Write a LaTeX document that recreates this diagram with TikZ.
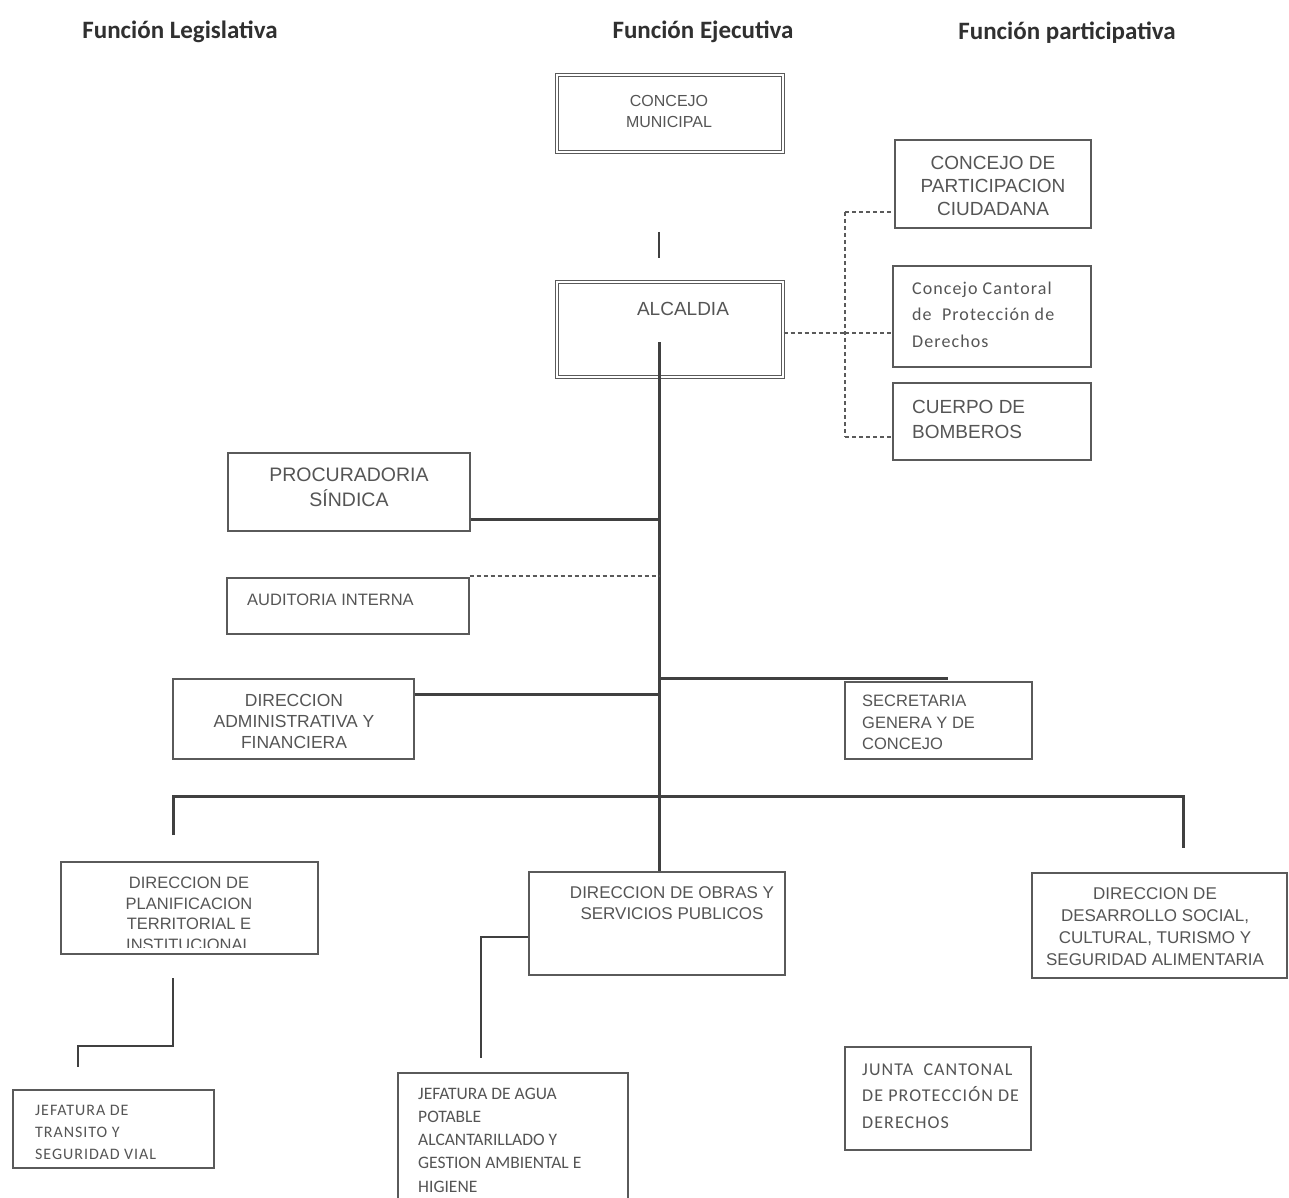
\documentclass[tikz,border=0pt]{standalone}
\usepackage{fontspec}
\newfontfamily\arialf{Liberation Sans}
\newfontfamily\calf{Carlito}
\newfontfamily\calsp[LetterSpace=6]{Carlito}
\definecolor{boxc}{HTML}{5A5A5A}
\definecolor{linec}{HTML}{404040}
\definecolor{txtc}{HTML}{555555}
\definecolor{hdrc}{HTML}{303030}
\begin{document}
\begin{tikzpicture}[x=1pt,y=-1pt,
  box/.style={draw=boxc, line width=1.3pt, inner sep=0pt, rectangle},
  dbox/.style={draw=boxc, line width=1.1pt, double=white, double distance=2.4pt, inner sep=0pt, rectangle},
  lbl/.style={text=txtc, inner sep=0pt, align=center},
  lbll/.style={text=txtc, inner sep=0pt, align=left, anchor=west},
  conn/.style={draw=linec, line width=3pt},
  thinln/.style={draw=linec, line width=1.5pt},
  dconn/.style={draw=boxc, line width=1.2pt, dash pattern=on 4pt off 3pt},
  hdr/.style={font={\calf\bfseries\fontsize{25}{30}\selectfont}, text=hdrc, inner sep=0pt}
]
\useasboundingbox (0,0) rectangle (1289,1198);
\fill[white] (0,0) rectangle (1289,1198);

% headers
\node[hdr] (h1) at (180,32) {Función Legislativa};
\node[hdr] (h2) at (703,32) {Función Ejecutiva};
\node[hdr] (h3) at (1067,33) {Función participativa};

% boxes
\node[dbox, minimum width=226, minimum height=77] (cm) at (670,113.5) {};
\node[dbox, minimum width=226, minimum height=95] (alc) at (670,329.5) {};
\node[box, minimum width=196, minimum height=88] (cpc) at (993,184) {};
\node[box, minimum width=198, minimum height=101] (ccp) at (992,316.5) {};
\node[box, minimum width=198, minimum height=77] (cb) at (992,421.5) {};
\node[box, minimum width=242, minimum height=78] (proc) at (349,492) {};
\node[box, minimum width=242, minimum height=56] (aud) at (348,606) {};
\node[box, minimum width=241, minimum height=80] (dadm) at (293.5,719) {};
\node[box, minimum width=187, minimum height=77] (sec) at (938.5,720.5) {};
\node[box, minimum width=257, minimum height=92] (plan) at (189.5,908) {};
\node[box, minimum width=256, minimum height=103] (obras) at (657,923.5) {};
\node[box, minimum width=255, minimum height=105] (desa) at (1159.5,925.5) {};
\node[box, minimum width=201, minimum height=78] (jtr) at (113.5,1129) {};
\node[box, minimum width=230, minimum height=132] (jag) at (513,1139) {};
\node[box, minimum width=186, minimum height=103] (junta) at (938,1098.5) {};

% texts
\node[lbl, font={\arialf\fontsize{16}{21}\selectfont}] (cmt) at (669,111.5) {CONCEJO\\MUNICIPAL};
\node[lbl, font={\arialf\fontsize{19}{23}\selectfont}] (alct) at (683,309) {ALCALDIA};
\node[lbl, font={\arialf\fontsize{19}{23}\selectfont}] (cpct) at (993,186) {CONCEJO DE\\PARTICIPACION\\CIUDADANA};
\node[lbll, font={\calsp\fontsize{18}{26.5}\selectfont}] (ccpt) at (912,314.5) {Concejo Cantoral\\de \ Protección de\\Derechos};
\node[lbll, font={\arialf\fontsize{19}{25}\selectfont}] (cbt) at (912,419.5) {CUERPO DE\\BOMBEROS};
\node[lbl, font={\arialf\fontsize{19.5}{25}\selectfont}] (proct) at (349,487.5) {PROCURADORIA\\SÍNDICA};
\node[lbll, font={\arialf\fontsize{16.5}{20}\selectfont}] (audt) at (247,600) {AUDITORIA INTERNA};
\node[lbl, font={\arialf\fontsize{17.5}{21}\selectfont}] (dadmt) at (294,721) {DIRECCION\\ADMINISTRATIVA Y\\FINANCIERA};
\node[lbll, font={\arialf\fontsize{16.5}{21.5}\selectfont}] (sect) at (862,722.5) {SECRETARIA\\GENERA Y DE\\CONCEJO};
\begin{scope}
\clip (62,863) rectangle (317,947);
\node[lbl, font={\arialf\fontsize{16.5}{20.5}\selectfont}] (plant) at (189,914) {DIRECCION DE\\PLANIFICACION\\TERRITORIAL E\\INSTITUCIONAL};
\end{scope}
\node[lbl, font={\arialf\fontsize{17}{20.5}\selectfont}] (obrast) at (672,903) {DIRECCION DE OBRAS Y\\SERVICIOS PUBLICOS};
\node[lbl, font={\arialf\fontsize{17}{22}\selectfont}] (desat) at (1155,927) {DIRECCION DE\\DESARROLLO SOCIAL,\\CULTURAL, TURISMO Y\\SEGURIDAD ALIMENTARIA};
\node[lbll, font={\calsp\fontsize{16}{22}\selectfont}] (jtrt) at (35,1132) {JEFATURA DE\\TRANSITO Y\\SEGURIDAD VIAL};
\node[lbll, font={\calf\fontsize{17.5}{23.2}\selectfont}] (jagt) at (418,1140) {JEFATURA DE AGUA\\POTABLE\\ALCANTARILLADO Y\\GESTION AMBIENTAL E\\HIGIENE};
\node[lbll, font={\calsp\fontsize{18}{26.5}\selectfont}] (juntat) at (862,1096) {JUNTA \ CANTONAL\\DE PROTECCIÓN DE\\DERECHOS};

% coordinates
\coordinate (t1) at (659,232);
\coordinate (t2) at (659,258);
\coordinate (s0) at (659,342);
\coordinate (s1) at (659,519);
\coordinate (s2) at (659,576);
\coordinate (s3) at (659,678);
\coordinate (s4) at (659,694);
\coordinate (secend) at (948,678);
\coordinate (b1) at (173,835);
\coordinate (b2) at (173,796);
\coordinate (b3) at (1183,796);
\coordinate (b4) at (1183,848);
\coordinate (dv1) at (845,212);
\coordinate (dv2) at (845,333);
\coordinate (dv3) at (845,437);
\coordinate (p1) at (173,978);
\coordinate (p2) at (173,1046);
\coordinate (p3) at (78,1046);
\coordinate (p4) at (78,1067);
\coordinate (o1) at (481,937);
\coordinate (o2) at (481,1058);

% connectors
\draw[thinln] (t1) -- (t2);
\draw[conn] (s0) -- (s0 |- obras.north);
\draw[conn] (proc.east |- s1) -- (s1);
\draw[dconn] (aud.north east |- s2) -- (s2);
\draw[conn] (dadm.east |- s4) -- (s4);
\draw[conn] (s3) -- (secend);
\draw[conn] (b1) -- (b2) -- (b3) -- (b4);
\draw[dconn] (alc.east |- dv2) -- (dv2);
\draw[dconn] (dv1) -- (dv3);
\draw[dconn] (dv1) -- (cpc.west |- dv1);
\draw[dconn] (dv2) -- (ccp.west |- dv2);
\draw[dconn] (dv3) -- (cb.west |- dv3);
\draw[thinln] (p1) -- (p2) -- (p3) -- (p4);
\draw[thinln] (obras.west |- o1) -- (o1) -- (o2);
\end{tikzpicture}
\end{document}
